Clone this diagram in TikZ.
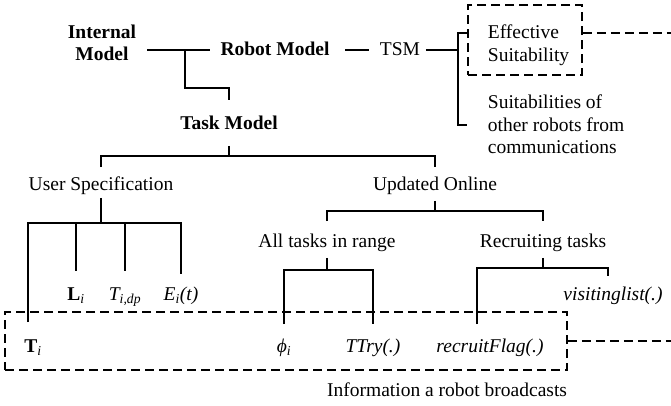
\documentclass[tikz,border=0pt]{standalone}
\usepackage{fontspec}
\setmainfont{Liberation Serif}
\usetikzlibrary{positioning}
\usetikzlibrary{fit}

\begin{document}
\fontsize{19.5}{22.5}\selectfont
\begin{tikzpicture}[x=1pt,y=-1pt,line width=1.8pt,
  lbl/.style={inner sep=0pt, text height=14pt, text depth=4pt, anchor=base},
  bold/.style={font=\bfseries},
  dashbox/.style={draw, line width=1.8pt, dash pattern=on 9pt off 5pt}]
  \useasboundingbox (0,0) rectangle (671,405);

  % Models
  \node[bold, inner sep=0pt, align=center, anchor=north] (im) at (102,24) {Internal\\Model};
  \node[lbl, bold] (rm) at (275,55) {Robot Model};
  \node[lbl, bold] (tm) at (229,129) {Task Model};
  \node[lbl] (tsm) at (400,55) {TSM};

  % Suitabilities
  \node[inner sep=0pt, align=left, anchor=north west] (est) at (487,24) {Effective\\Suitability};
  \node[dashbox, inner sep=0pt, fit={(468,5) (582,75)}] (es) {};
  \node[inner sep=0pt, align=left, anchor=north west] (sub) at (487,94) {Suitabilities of\\other robots from\\communications};

  % Task model branches
  \node[lbl] (us) at (101,190) {User Specification};
  \node[lbl] (uo) at (435,190) {Updated Online};
  \node[lbl] (atr) at (327,247) {All tasks in range};
  \node[lbl] (rt) at (543,247) {Recruiting tasks};

  % Leaves
  \node[lbl] (Li) at (76,300) {\textbf{L}\textsubscript{\textit{i}}};
  \node[lbl] (Tdp) at (125,300) {\textit{T\textsubscript{i,dp}}};
  \node[lbl] (Et) at (181,300) {\textit{E\textsubscript{i}(t)}};
  \node[lbl] (vl) at (613,300) {\textit{visitinglist(.)}};
  \node[lbl] (Ti) at (33,352) {\textbf{T}\textsubscript{\textit{i}}};
  \node[lbl] (phi) at (284,352) {\textit{ϕ\textsubscript{i}}};
  \node[lbl] (ttry) at (373,352) {\textit{TTry(.)}};
  \node[lbl] (rf) at (490,352) {\textit{recruitFlag(.)}};

  % Broadcast box
  \node[dashbox, inner sep=0pt, fit={(5,312) (567,370)}] (bcast) {};
  \node[lbl, anchor=north east, below left=11pt and 0pt of bcast.south east] (info) {Information a robot broadcasts};

  \coordinate (esout) at (671,33);
  \coordinate (imfork) at (185,88);
  \coordinate (tsmfork) at (458,125);
  \coordinate (tmbus) at (0,156);
  \coordinate (usbus) at (0,223);
  \coordinate (uobus) at (0,211);
  \coordinate (atrbus) at (0,270);
  \coordinate (rtbus) at (0,268);

  % Connectors
  \draw[shorten <=10pt, shorten >=10pt] (im.east |- rm) -- (rm.west);
  \draw (imfork |- rm) -- (imfork) -| ([yshift=14pt]tm.north);
  \draw[shorten <=15pt, shorten >=10pt] (rm.east) -- (tsm.west);
  \draw[shorten <=5pt] (tsm.east) -- (tsm.east -| tsmfork);
  \draw (es.west |- esout) -| (tsmfork) -- (tsmfork -| es.west);
  \draw[dashbox] (es.east |- esout) -- (esout);

  \draw ([yshift=-12pt]tm.south) -- (tm |- tmbus);
  \draw ([yshift=8pt]us.north) |- (tm |- tmbus) -| ([yshift=8pt]uo.north);

  \draw ([yshift=-3pt]us.south) -- (us |- usbus);
  \draw ([xshift=-5pt,yshift=15pt]Ti.north) |- (us |- usbus) -| ([yshift=11pt]Et.north);
  \foreach \n in {Li,Tdp}
    \draw (\n |- usbus) -- ([yshift=14pt]\n.north);

  \draw ([yshift=-6pt]uo.south) -- (uo |- uobus);
  \draw ([yshift=11pt]atr.north) |- (uo |- uobus) -| ([yshift=11pt]rt.north);

  \draw ([yshift=-6pt]atr.south) -- (atr |- atrbus);
  \draw ([yshift=13pt]phi.north) |- (atr |- atrbus) -| ([yshift=13pt]ttry.north);

  \draw ([yshift=-6pt]rt.south) -- (rt |- rtbus);
  \draw ([xshift=-13pt,yshift=13pt]rf.north) |- (rt |- rtbus) -| ([xshift=-5pt,yshift=9pt]vl.north);

  \draw[dashbox] (bcast.east) -- (bcast.east -| esout);
\end{tikzpicture}
\end{document}
